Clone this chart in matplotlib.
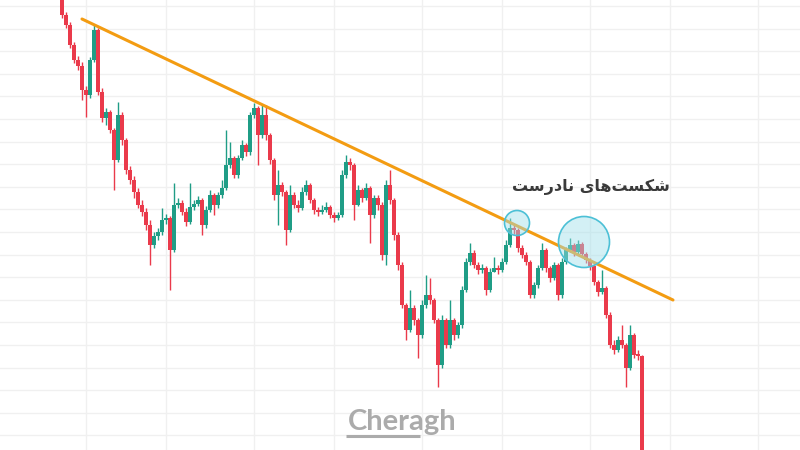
import numpy as np
import matplotlib
matplotlib.use("Agg")
import matplotlib.pyplot as plt
from matplotlib.patches import Ellipse

# price data (arbitrary units), one candle per bar
first_open = 460
closes = [435, 425, 405, 390, 384, 360, 355, 390, 420, 358,
          332, 338, 320, 290, 335, 310, 280, 270, 258, 245,
          238, 225, 205, 214, 218, 230, 232, 200, 245, 247,
          238, 228, 243, 246, 250, 225, 240, 255, 245, 255,
          262, 285, 292, 275, 292, 305, 298, 335, 342, 315,
          335, 315, 290, 255, 265, 258, 220, 255, 245, 242,
          258, 265, 250, 240, 238, 240, 243, 235, 232, 235,
          275, 288, 285, 245, 260, 252, 262, 235, 252, 245,
          195, 265, 250, 215, 185, 145, 120, 142, 130, 115,
          145, 155, 150, 130, 85, 130, 105, 130, 115, 125,
          160, 188, 197, 185, 180, 182, 160, 178, 182, 180,
          188, 205, 222, 220, 202, 195, 188, 155, 165, 182,
          200, 182, 172, 185, 155, 188, 200, 205, 198, 206,
          196, 190, 184, 168, 158, 162, 135, 105, 100, 110,
          105, 82, 115, 95, 94, -20]
highs = [460, 438, 428, 408, 394, 388, 364, 393, 426, 422,
         362, 342, 340, 322, 348, 338, 312, 284, 274, 262,
         250, 242, 230, 218, 222, 242, 236, 234, 267, 252,
         250, 242, 267, 250, 254, 252, 244, 260, 257, 258,
         270, 320, 308, 294, 295, 310, 307, 338, 347, 344,
         345, 345, 317, 292, 280, 268, 260, 265, 258, 250,
         263, 270, 267, 252, 243, 245, 248, 245, 238, 238,
         280, 295, 292, 287, 265, 262, 267, 264, 255, 255,
         248, 270, 280, 252, 218, 188, 147, 160, 145, 132,
         150, 175, 172, 152, 132, 135, 132, 150, 132, 128,
         164, 192, 207, 200, 188, 186, 184, 182, 193, 185,
         192, 210, 232, 225, 222, 205, 198, 190, 168, 185,
         207, 202, 184, 188, 187, 192, 203, 212, 207, 210,
         208, 198, 192, 186, 170, 180, 164, 138, 110, 114,
         125, 107, 125, 117, 100, 95]
lows = [432, 422, 402, 387, 380, 350, 333, 352, 388, 355,
        328, 325, 317, 260, 288, 305, 276, 266, 252, 242,
        234, 220, 185, 202, 210, 215, 226, 160, 198, 242,
        235, 224, 226, 240, 244, 215, 222, 238, 235, 242,
        252, 260, 282, 272, 272, 290, 294, 295, 332, 285,
        312, 310, 286, 250, 225, 254, 205, 218, 242, 238,
        240, 255, 247, 236, 234, 236, 238, 232, 228, 230,
        233, 272, 280, 230, 244, 248, 250, 207, 232, 240,
        190, 185, 246, 210, 180, 142, 110, 118, 125, 92,
        112, 142, 146, 127, 63, 82, 102, 102, 110, 112,
        122, 158, 185, 182, 176, 177, 155, 158, 178, 176,
        178, 186, 203, 216, 198, 192, 185, 152, 152, 162,
        180, 178, 168, 170, 150, 152, 186, 198, 194, 196,
        193, 187, 180, 165, 154, 156, 132, 102, 96, 98,
        102, 63, 80, 92, 90, -30]

# trend line (bar index, price) and the two "false breakout" zones
trend_x = [5, 152.75]
trend_y = [431, 150]
zones = [(113.75, 227, 12.5), (130.5, 208, 25.5)]
label = "\uFE96\uFEB3\uFEAD\uFEA9\uFE8E\uFEE7 \uFBFC\uFE8E\uFEEB\uFE96\uFEB4\uFB91\uFEB7"  # شکست‌های نادرست

closes = np.array(closes, dtype=float)
opens = np.concatenate([[first_open], closes[:-1]])
highs = np.maximum(np.array(highs, dtype=float), np.maximum(opens, closes))
lows = np.minimum(np.array(lows, dtype=float), np.minimum(opens, closes))
idx = np.arange(len(closes))

UP = '#1f9d86'
DOWN = '#ea3a4b'

fig = plt.figure(figsize=(8, 4.5), dpi=100)
ax = fig.add_axes([0, 0, 1, 1])
ax.set_xlim(-15.5, 184.5)
ax.set_ylim(0, 450)

# grid
for gx in [6, 26, 48, 68, 90, 110, 132, 152, 174]:
    ax.axvline(gx, color='#f0f0f0', lw=1, zorder=0)
for gy in np.arange(444, 0, -22.6):
    ax.axhline(gy, color='#f0f0f0', lw=1, zorder=0)

colors = np.where(closes >= opens, UP, DOWN)
ax.vlines(idx, lows, highs, colors=colors, lw=1.0, zorder=2)
body_h = np.abs(closes - opens)
body_h = np.where(body_h < 2, 2, body_h)
ax.bar(idx, body_h, bottom=np.minimum(opens, closes), width=0.85,
       color=colors, linewidth=0, zorder=3)

ax.plot(trend_x, trend_y, color='#f39c12', lw=2.2, solid_capstyle='round', zorder=4)

# 1 bar = 4 px horizontally, 1 price unit = 1 px vertically
for cx, cy, r in zones:
    ax.add_patch(Ellipse((cx, cy), 2 * r / 4, 2 * r, facecolor='#9fdfea', alpha=0.45,
                         edgecolor='none', zorder=5))
    ax.add_patch(Ellipse((cx, cy), 2 * r / 4, 2 * r, facecolor='none',
                         edgecolor='#4cc0d6', lw=1.2, zorder=6))

ax.text(0.739, 0.585, label, transform=ax.transAxes, ha='center', va='center',
        fontsize=11.5, fontweight='bold', color='#3a3a3a', family=['DejaVu Sans'])

# watermark
ax.text(0.5025, 0.062, 'Cheragh', transform=ax.transAxes, ha='center', va='center',
        fontsize=21, fontweight='bold', color='#ababab', family=['Lato', 'DejaVu Sans'])
ax.plot([0.433, 0.525], [0.031, 0.031], transform=ax.transAxes, color='#ababab',
        lw=2.2, solid_capstyle='butt')

ax.axis('off')
fig.savefig('out.png', dpi=100, facecolor='white')
